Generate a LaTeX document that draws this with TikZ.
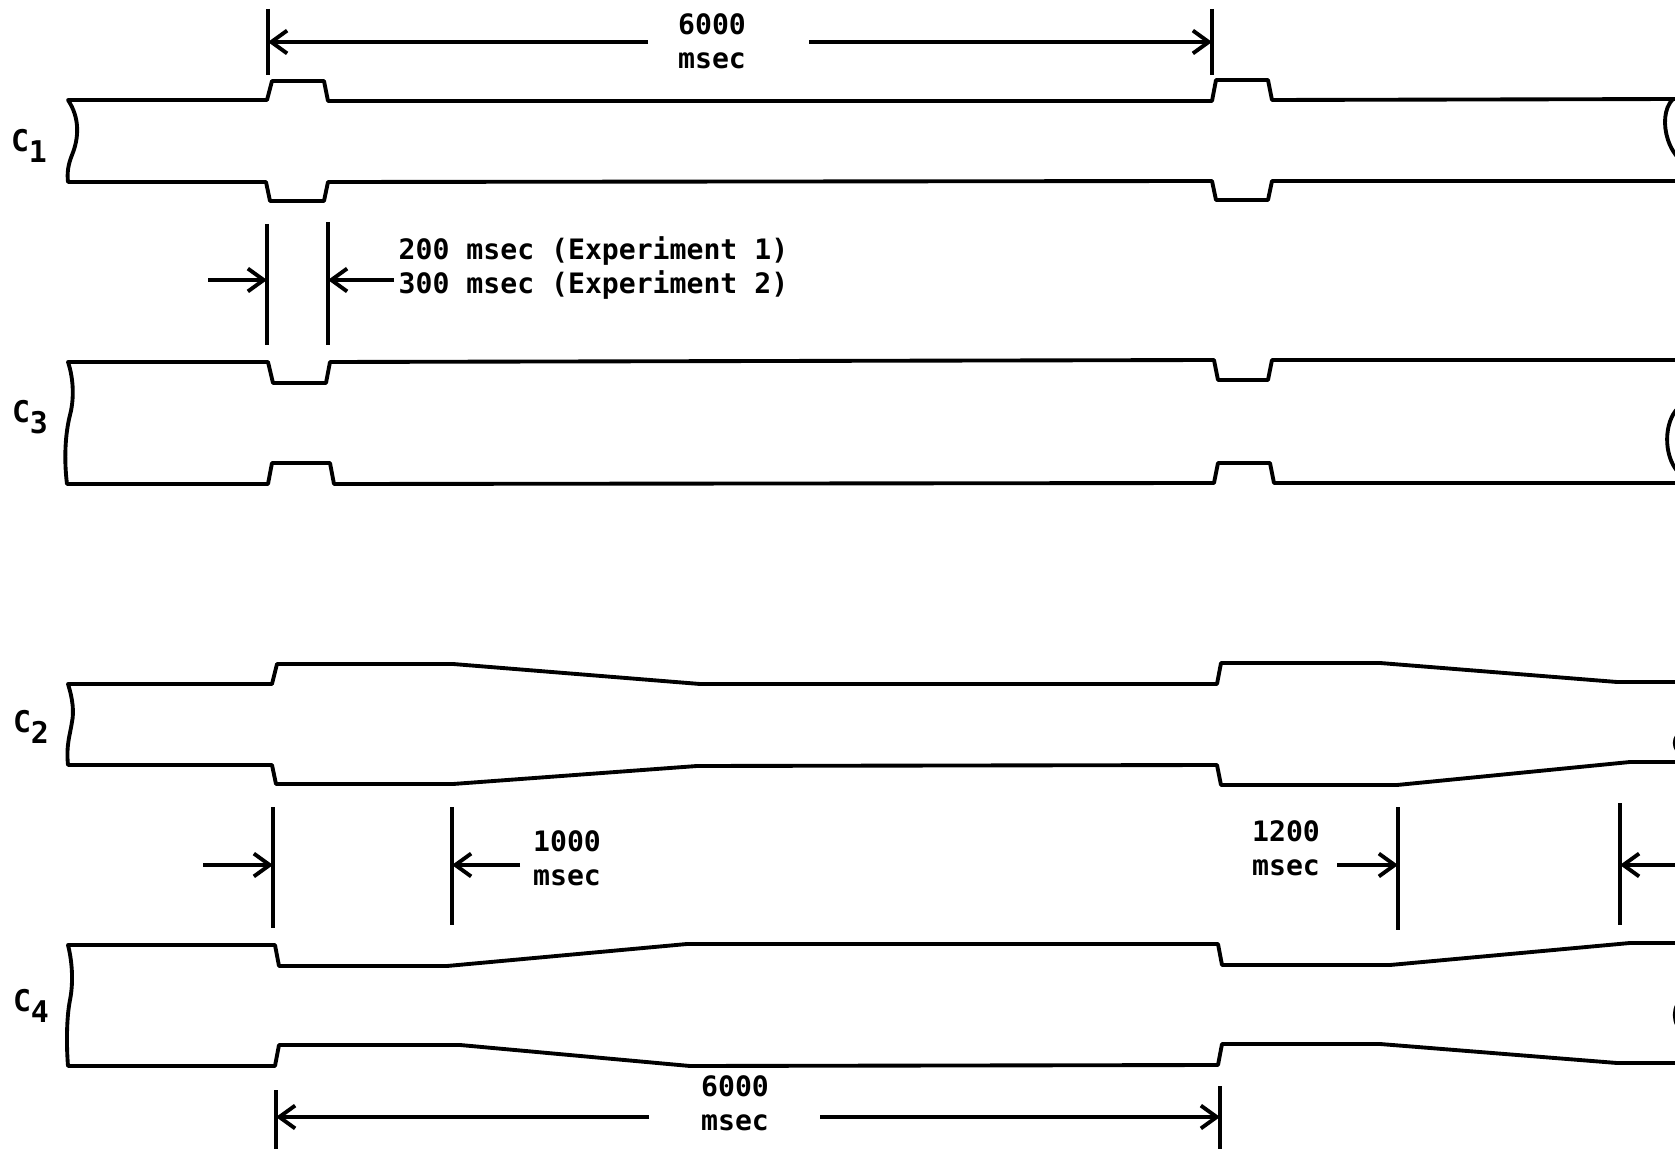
\documentclass[tikz,border=0pt]{standalone}
\usepackage{fontspec}
\setmonofont{DejaVu Sans Mono}
\usetikzlibrary{arrows.meta}
\begin{document}
\begin{tikzpicture}[x=0.01cm,y=-0.01cm,
  band/.style={line width=1.1pt, line join=round},
  tick/.style={line width=1.2pt},
  dim/.style={line width=1.1pt, -{Straight Barb[length=4.5pt,width=6.5pt,line width=1.1pt]}},
  lbl/.style={font=\fontsize{8}{9.6}\selectfont\ttfamily\bfseries, inner sep=0pt, align=center},
  clab/.style={font=\fontsize{8.5}{9}\selectfont\ttfamily\bfseries, inner sep=0pt}]
\useasboundingbox (0,0) rectangle (1675,1149);
\begin{scope}
\clip (0,0) rectangle (1675,1149);
% C1 band
\draw[band] (1680,99) -- (1272,100) -- (1268,80) -- (1216,80) -- (1212,101) -- (328,101) -- (324,81) -- (272,81) -- (267,100) -- (68,100)
  .. controls (80,118) and (79,138) .. (72,155) .. controls (68,165) and (67,173) .. (68,182)
  -- (266,182) -- (270,201) -- (324,201) -- (328,182) -- (1212,181) -- (1216,200) -- (1268,200) -- (1272,181) -- (1680,181);
\draw[band] (1673,99) .. controls (1664,108) and (1663,125) .. (1668,140) .. controls (1670,146) and (1672,150) .. (1678,158);
% C3 band
\draw[band] (1680,360) -- (1272,360) -- (1268,380) -- (1218,380) -- (1214,360) -- (330,362) -- (326,383) -- (273,383) -- (268,362) -- (68,362)
  .. controls (74,380) and (74,400) .. (70,415) .. controls (65,435) and (64,460) .. (67,484)
  -- (268,484) -- (272,463) -- (330,463) -- (334,484) -- (1214,483) -- (1218,463) -- (1270,463) -- (1274,483) -- (1680,483);
\draw[band] (1678,408) .. controls (1664,422) and (1663,455) .. (1678,472);
% C2 band
\draw[band] (1680,682) -- (1617,682) -- (1380,663) -- (1221,663) -- (1217,684) -- (700,684) -- (453,664) -- (277,664) -- (272,684) -- (68,684)
  .. controls (73,700) and (74,712) .. (72,722) .. controls (70,735) and (66,745) .. (68,765)
  -- (272,765) -- (276,784) -- (453,784) -- (697,766) -- (1217,765) -- (1221,785) -- (1397,785) -- (1630,762) -- (1680,762);
\draw[band] (1686,728) .. controls (1671,736) and (1671,750) .. (1686,758);
% C4 band
\draw[band] (1680,943) -- (1630,943) -- (1390,965) -- (1222,965) -- (1218,944) -- (687,944) -- (447,966) -- (279,966) -- (275,945) -- (68,945)
  .. controls (73,965) and (73,985) .. (70,1000) .. controls (67,1015) and (66,1040) .. (68,1066)
  -- (275,1066) -- (279,1045) -- (460,1045) -- (690,1066) -- (1218,1065) -- (1222,1044) -- (1380,1044) -- (1617,1063) -- (1680,1063);
\draw[band] (1686,995) .. controls (1671,1005) and (1671,1025) .. (1686,1035);
\end{scope}

% labels
\node[clab] (c1) at (29,146) {C\raisebox{-3pt}{1}};
\node[clab] (c3) at (30,417) {C\raisebox{-3pt}{3}};
\node[clab] (c2) at (31,727) {C\raisebox{-3pt}{2}};
\node[clab] (c4) at (31,1006) {C\raisebox{-3pt}{4}};

% top 6000 msec
\draw[tick] (268,9) -- (268,75);
\draw[tick] (1212,9) -- (1212,75);
\coordinate (topL) at (268,42);
\coordinate (topR) at (1212,42);
\node[lbl] (top) at (712,41) {6000\\msec};
\coordinate (topLs) at (648,42);
\coordinate (topRs) at (809,42);
\draw[dim] (topLs) -- (topL);
\draw[dim] (topRs) -- (topR);

% 200/300 msec
\draw[tick] (267,224) -- (267,345);
\draw[tick] (328,222) -- (328,345);
\coordinate (pL) at (267,280);
\coordinate (pR) at (328,280);
\coordinate (pLs) at (208,280);
\coordinate (pRs) at (394,280);
\draw[dim] (pLs) -- (pL);
\draw[dim] (pRs) -- (pR);
\node[lbl, anchor=west, align=left] (exp) at (398,268) {200 msec (Experiment 1)\\300 msec (Experiment 2)};

% 1000 msec
\draw[tick] (273,807) -- (273,928);
\draw[tick] (452,807) -- (452,925);
\coordinate (aL) at (273,865);
\coordinate (aR) at (452,865);
\coordinate (aLs) at (203,865);
\coordinate (aRs) at (520,865);
\draw[dim] (aLs) -- (aL);
\draw[dim] (aRs) -- (aR);
\node[lbl] (thou) at (567,858) {1000\\msec};

% 1200 msec
\draw[tick] (1398,807) -- (1398,930);
\draw[tick] (1620,803) -- (1620,925);
\coordinate (bL) at (1398,865);
\coordinate (bR) at (1620,865);
\coordinate (bLs) at (1337,865);
\coordinate (bRs) at (1675,865);
\draw[dim] (bLs) -- (bL);
\draw[dim] (bRs) -- (bR);
\node[lbl] (twelve) at (1286,848) {1200\\msec};

% bottom 6000 msec
\draw[tick] (276,1090) -- (276,1149);
\draw[tick] (1220,1086) -- (1220,1149);
\coordinate (botL) at (276,1117);
\coordinate (botR) at (1220,1117);
\coordinate (botLs) at (649,1117);
\coordinate (botRs) at (820,1117);
\draw[dim] (botLs) -- (botL);
\draw[dim] (botRs) -- (botR);
\node[lbl] (bot) at (735,1103) {6000\\msec};
\end{tikzpicture}
\end{document}
